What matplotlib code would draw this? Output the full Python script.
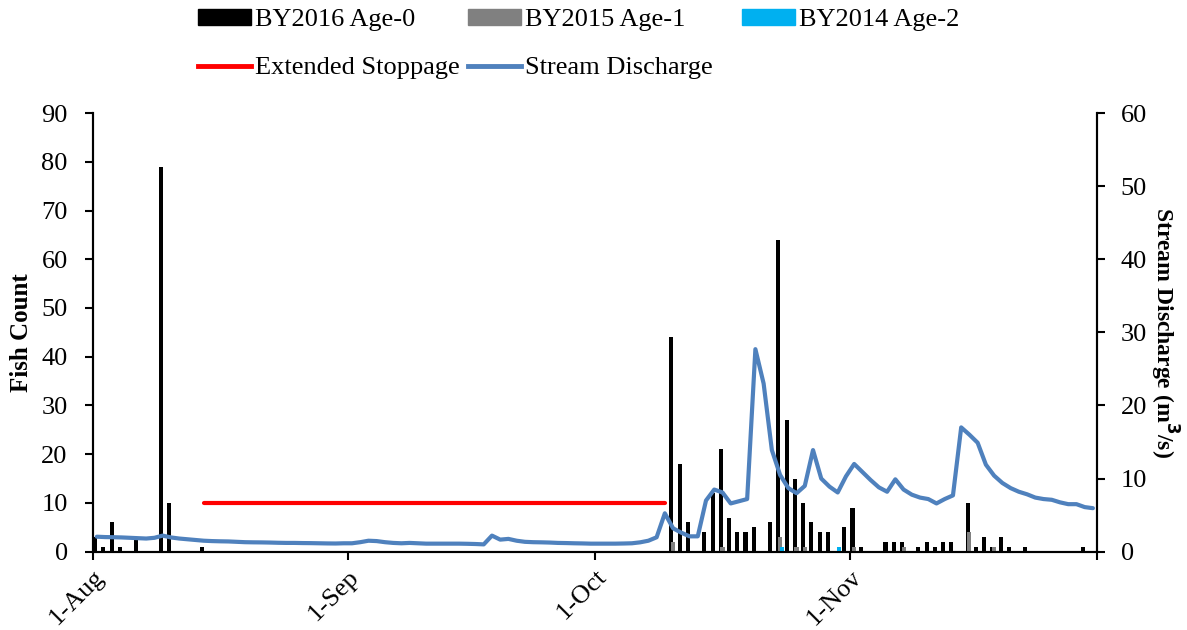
import numpy as np
import pandas as pd
import matplotlib
matplotlib.use("Agg")
import matplotlib.pyplot as plt
import matplotlib.transforms as mtransforms
from matplotlib.lines import Line2D
from matplotlib.patches import Patch

plt.rcParams['font.family'] = ['Liberation Serif', 'DejaVu Serif']

season_start = pd.Timestamp('2017-08-01')
season_end = pd.Timestamp('2017-12-01')

# daily fish counts (MM-DD)
age0_dates = ['08-01', '08-02', '08-03', '08-04', '08-06', '08-09', '08-10', '08-14',
              '10-10', '10-11', '10-12', '10-14', '10-15', '10-16', '10-17', '10-18',
              '10-19', '10-20', '10-22', '10-23', '10-24', '10-25', '10-26', '10-27',
              '10-28', '10-29', '10-31', '11-01', '11-02', '11-05', '11-06', '11-07',
              '11-09', '11-10', '11-11', '11-12', '11-13', '11-15', '11-16', '11-17',
              '11-18', '11-19', '11-20', '11-22', '11-29']
age0_counts = [3, 1, 6, 1, 3, 79, 10, 1,
               44, 18, 6, 4, 12, 21, 7, 4,
               4, 5, 6, 64, 27, 15, 10, 6,
               4, 4, 5, 9, 1, 2, 2, 2,
               1, 2, 1, 2, 2, 10, 1, 3,
               1, 3, 1, 1, 1]

age1_dates = ['10-10', '10-16', '10-23', '10-25', '10-26', '11-01', '11-07', '11-15', '11-18']
age1_counts = [2, 1, 3, 1, 1, 1, 1, 4, 1]

age2_dates = ['10-23', '10-30']
age2_counts = [1, 1]

# extended trap stoppage
stoppage_start = '08-14'
stoppage_end = '10-09'
stoppage_level = 10

# daily stream discharge (m3/s), 1-Aug to 30-Nov
discharge = [2.05, 2.0, 1.98, 1.95, 1.9, 1.85, 1.8, 1.9, 2.2, 1.95,
             1.8, 1.7, 1.6, 1.5, 1.45, 1.42, 1.4, 1.35, 1.3, 1.28,
             1.27, 1.25, 1.22, 1.2, 1.2, 1.18, 1.17, 1.15, 1.13, 1.12,
             1.15, 1.15, 1.3, 1.5, 1.45, 1.3, 1.2, 1.15, 1.2, 1.15,
             1.1, 1.1, 1.1, 1.1, 1.1, 1.08, 1.05, 1.0, 2.2, 1.65,
             1.75, 1.5, 1.35, 1.3, 1.28, 1.25, 1.2, 1.18, 1.15, 1.13,
             1.1, 1.1, 1.1, 1.1, 1.12, 1.15, 1.28, 1.5, 1.97, 5.25,
             3.2, 2.6, 2.1, 2.1, 7.0, 8.5, 8.1, 6.6, 6.9, 7.2,
             27.7, 23.0, 13.9, 10.5, 8.7, 8.0, 9.0, 13.9, 10.0, 8.9,
             8.1, 10.3, 12.0, 10.9, 9.8, 8.8, 8.2, 9.9, 8.5, 7.8,
             7.4, 7.2, 6.6, 7.2, 7.7, 17.0, 16.0, 14.9, 11.9, 10.4,
             9.4, 8.7, 8.2, 7.85, 7.4, 7.2, 7.1, 6.75, 6.5, 6.5,
             6.1, 5.95]

tick_dates = ['08-01', '09-01', '10-01', '11-01', '12-01']
tick_labels = ['1-Aug', '1-Sep', '1-Oct', '1-Nov', '']


def day_of_season(mmdd):
    d = pd.Timestamp('2017-' + mmdd)
    return float((d - season_start).days)


def days(list_mmdd):
    return np.array([day_of_season(s) for s in list_mmdd])


fig = plt.figure(figsize=(11.87, 6.30), dpi=100)
ax = fig.add_axes([0.0781, 0.1243, 0.8461, 0.6963])
ax2 = ax.twinx()

bar_w = 0.5
ax.bar(days(age0_dates) + 0.3, age0_counts, width=bar_w, color='#000000', zorder=2)
ax.bar(days(age1_dates) + 0.5, age1_counts, width=bar_w, color='#808080', zorder=3)
ax.bar(days(age2_dates) + 0.7, age2_counts, width=bar_w, color='#00B0F0', zorder=4)

ax.plot([day_of_season(stoppage_start) + 0.5, day_of_season(stoppage_end) + 0.5],
        [stoppage_level, stoppage_level], color='#FF0000', lw=3.0,
        solid_capstyle='round', zorder=5)

q_days = np.arange(len(discharge)) + 0.5
ax2.plot(q_days, discharge, color='#4F81BD', lw=3.0, solid_joinstyle='round',
         solid_capstyle='round')

n_days = (season_end - season_start).days
ax.set_xlim(0, n_days)
ax.set_ylim(0, 90)
ax2.set_ylim(0, 60)
ax.set_yticks(np.arange(0, 91, 10))
ax2.set_yticks(np.arange(0, 61, 10))
ax.set_xticks(days(tick_dates))
ax.set_xticklabels(tick_labels, rotation=45, ha='right', rotation_mode='anchor')
shift = mtransforms.ScaledTranslation(0.13, -0.02, fig.dpi_scale_trans)
for lbl in ax.get_xticklabels():
    lbl.set_transform(lbl.get_transform() + shift)

for a in (ax, ax2):
    a.spines['top'].set_visible(False)
    for s in a.spines.values():
        s.set_linewidth(1.5)
    a.tick_params(labelsize=19, width=1.5, length=6, direction='out')
ax.tick_params(axis='y', pad=12)
ax2.tick_params(axis='y', pad=11)
ax.tick_params(axis='x', pad=4)

ax.set_ylabel('Fish Count', fontsize=18, fontweight='bold', labelpad=6)
ax2.set_ylabel('Stream Discharge (m$^\\mathbf{3}$/s)', fontsize=17, fontweight='bold',
               rotation=270, labelpad=24)

# legend laid out in three fixed-width columns like the original
legend_cols = [
    ([Patch(color='#000000'), Line2D([], [], color='#FF0000', lw=3.5)],
     ['BY2016 Age-0', 'Extended Stoppage'], 198),
    ([Patch(color='#808080'), Line2D([], [], color='#4F81BD', lw=3.5)],
     ['BY2015 Age-1', 'Stream Discharge'], 468),
    ([Patch(color='#00B0F0')], ['BY2014 Age-2'], 742),
]
for hs, ls, x0 in legend_cols:
    leg = fig.legend(hs, ls, loc='upper left', bbox_to_anchor=(x0 / 1187, 1 - 9 / 630),
                     frameon=False, fontsize=19, handlelength=2.0, handleheight=0.55,
                     handletextpad=0.15, labelspacing=0.98, borderpad=0,
                     borderaxespad=0)

fig.savefig('out.png', dpi=100)
